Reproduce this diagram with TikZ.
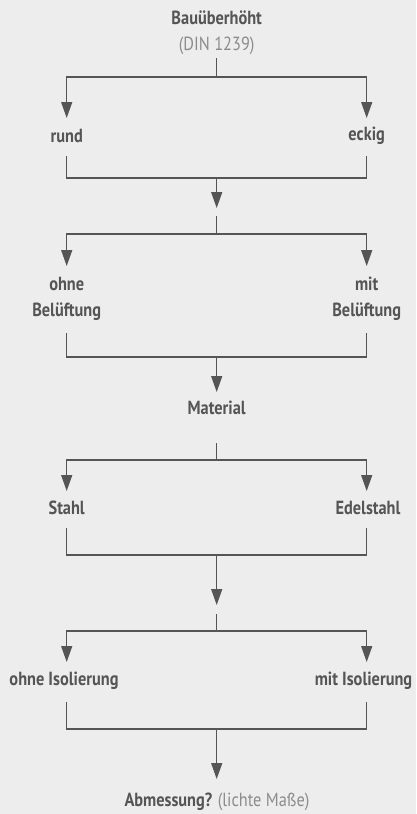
\documentclass[tikz,border=0pt]{standalone}
\usepackage{fontspec}
\setmainfont{PT Sans}[FakeStretch=0.86]
\usetikzlibrary{arrows.meta,positioning}
\definecolor{bg}{HTML}{EDEDED}
\definecolor{ink}{HTML}{555555}
\definecolor{soft}{HTML}{8C8C8C}

\begin{document}
\begin{tikzpicture}[x=1pt,y=-1pt,>={Triangle[width=11pt,length=16pt]},
  item/.style={font=\bfseries\fontsize{19}{26}\selectfont,text=ink,align=center,inner sep=0pt},
  note/.style={font=\fontsize{19}{22}\selectfont,text=soft,inner sep=0pt},
  link/.style={draw=ink,line width=1.4pt}]
  \fill[bg] (0,0) rectangle (416,814);
  \useasboundingbox (0,0) rectangle (416,814);

  % texts
  \node[item] (top) at (216.7,18) {Bauüberhöht};
  \node[note] (din) at (216.7,46) {(DIN 1239)};
  \node[item] (rund) at (66.7,136) {rund};
  \node[item] (eckig) at (366.7,136) {eckig};
  \node[item] (ohneB) at (66.7,299) {ohne\\Belüftung};
  \node[item] (mitB) at (366.7,299) {mit\\Belüftung};
  \node[item] (mat) at (216.7,408) {Material};
  \node[item] (stahl) at (66.7,508) {Stahl};
  \node[item] (edel) at (368,508) {Edelstahl};
  \node[item] (ohneI) at (64,681) {ohne Isolierung};
  \node[item] (mitI) at (363.5,681) {mit Isolierung};
  \node[item] (abm) at (217,802) {Abmessung? {\mdseries\color{soft}(lichte Maße)}};

  % split points and arrow ends
  \coordinate (s1) at (216.7,58);  \coordinate (j1) at (216.7,77);
  \coordinate (l1) at (66.7,118);  \coordinate (r1) at (366.7,118);
  \coordinate (s2) at (216.7,216); \coordinate (j2) at (216.7,234);
  \coordinate (l2) at (66.7,266);  \coordinate (r2) at (366.7,266);
  \coordinate (s3) at (216.7,443); \coordinate (j3) at (216.7,460);
  \coordinate (l3) at (66.7,491);  \coordinate (r3) at (366.7,491);
  \coordinate (s4) at (216.7,614); \coordinate (j4) at (216.7,631);
  \coordinate (l4) at (66.7,662);  \coordinate (r4) at (366.7,662);
  \foreach \i in {1,...,4} {
    \draw[link] (s\i) -- (j\i);
    \draw[link,->] (j\i) -| (l\i);
    \draw[link,->] (j\i) -| (r\i);
  }

  % merge points
  \coordinate (ul1) at (66.7,156); \coordinate (ur1) at (366.7,156);
  \coordinate (m1) at (216.7,178); \coordinate (e1) at (216.7,208);
  \coordinate (ul2) at (66.7,333); \coordinate (ur2) at (366.7,333);
  \coordinate (m2) at (216.7,357); \coordinate (e2) at (216.7,392);
  \coordinate (ul3) at (66.7,528); \coordinate (ur3) at (366.7,528);
  \coordinate (m3) at (216.7,555); \coordinate (e3) at (216.7,605);
  \coordinate (ul4) at (66.7,702); \coordinate (ur4) at (366.7,702);
  \coordinate (m4) at (216.7,729); \coordinate (e4) at (216.7,779);
  \foreach \i in {1,...,4} {
    \draw[link] (ul\i) |- (m\i) -| (ur\i);
    \draw[link,->] (m\i) -- (e\i);
  }
\end{tikzpicture}
\end{document}
